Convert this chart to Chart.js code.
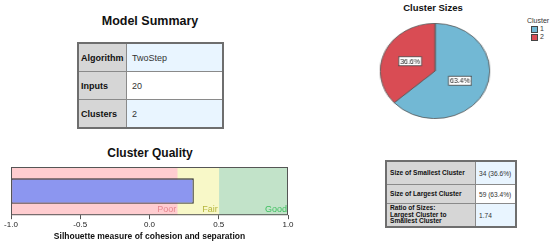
<!DOCTYPE html>
<html><head><meta charset="utf-8">
<script src="https://cdn.jsdelivr.net/npm/chart.js@4"></script>
<style>
body{margin:0;width:550px;height:242px;background:#fff;position:relative;overflow:hidden;font-family:"Liberation Sans",Arial,sans-serif;}
.abs{position:absolute;}
.title{font-weight:bold;color:#111;text-align:center;white-space:nowrap;}
table{border-collapse:collapse;border:2px solid #6e6e6e;}
td{border:1px solid #8a8a8a;padding:0;vertical-align:middle;white-space:nowrap;}
#t1 td{font-size:9px;height:27px;}
#t1 td.lab{background:#d6d6d6;font-weight:bold;color:#111;padding-left:2px;width:45px;}
#t1 td.val{padding-left:5px;color:#333;}
#t2 td{font-size:6.6px;}
#t2 td.lab{background:#d6d6d6;font-weight:bold;color:#111;padding-left:3px;width:85px;line-height:6.4px;}
#t2 td.val{padding-left:3px;color:#333;}
.blue{background:#e9f5ff;}
.white{background:#fff;}
#legend{font-size:7px;color:#333;}
.sw{display:inline-block;width:5px;height:5px;border:1px solid #444;vertical-align:middle;margin-right:2px;}
</style></head>
<body>
<div class="abs title" style="left:0;width:300px;top:14px;font-size:12.5px;">Model Summary</div>
<table id="t1" class="abs" style="left:77px;top:42px;width:147px;"></table>
<div class="abs title" style="left:0;width:300px;top:146px;font-size:12px;">Cluster Quality</div>
<div class="abs" style="left:0;top:160px;width:300px;height:82px;"><canvas id="q"></canvas></div>
<div class="abs title" style="left:383px;width:100px;top:2px;font-size:9.5px;">Cluster Sizes</div>
<div class="abs" style="left:387px;top:23px;width:96px;height:96px;transform:scaleX(1.15);transform-origin:50% 50%;"><canvas id="p"></canvas></div>
<div id="legend" class="abs" style="left:527px;top:17px;"></div>
<table id="t2" class="abs" style="left:385px;top:160px;width:132px;"></table>
<script>
const summaryLabels = ['Algorithm', 'Inputs', 'Clusters'];
const summaryValues = ['TwoStep', '20', '2'];

const bandNames = ['Poor', 'Fair', 'Good'];
const bandRanges = [[-1, 0.2], [0.2, 0.5], [0.5, 1]];
const silhouetteValue = 0.32;
const xTickValues = [-1, -0.5, 0, 0.5, 1];
const xAxisTitle = 'Silhouette measure of cohesion and separation';

const clusterNames = ['1', '2'];
const clusterShares = [63.4, 36.6];

const sizeLabels = ['Size of Smallest Cluster', 'Size of Largest Cluster', 'Ratio of Sizes:<br>Largest Cluster to<br>Smallest Cluster'];
const sizeValues = ['34 (36.6%)', '59 (63.4%)', '1.74'];

const FONT = '"Liberation Sans", Arial, sans-serif';

// tables
const t1 = document.getElementById('t1');
summaryLabels.forEach((l, i) => {
  const tr = document.createElement('tr');
  tr.innerHTML = `<td class="lab">${l}</td><td class="val ${i === 1 ? 'white' : 'blue'}">${summaryValues[i]}</td>`;
  t1.appendChild(tr);
});
const t2 = document.getElementById('t2');
const t2Heights = [22, 18, 22];
sizeLabels.forEach((l, i) => {
  const tr = document.createElement('tr');
  tr.innerHTML = `<td class="lab" style="height:${t2Heights[i]}px">${l}</td><td class="val ${i === 1 ? 'white' : 'blue'}">${sizeValues[i]}</td>`;
  t2.appendChild(tr);
});

// quality chart
const bandColors = ['#ffcdd0', '#f8f8c8', '#c2e3c9'];
const bandTextColors = ['#e6868f', '#b5b53c', '#3cbf5e'];
const bandDatasets = bandRanges.map((r, i) => ({
  label: bandNames[i],
  data: [r],
  backgroundColor: bandColors[i],
  borderWidth: 0,
  barPercentage: 1,
  categoryPercentage: 1,
  grouped: false,
  order: 2
}));
const framePlugin = {
  id: 'frame',
  afterDatasetsDraw(chart) {
    const { ctx, chartArea: a, scales } = chart;
    ctx.save();
    ctx.font = `9px ${FONT}`;
    ctx.textAlign = 'right';
    ctx.textBaseline = 'bottom';
    bandRanges.forEach((r, i) => {
      ctx.fillStyle = bandTextColors[i];
      ctx.fillText(bandNames[i], scales.x.getPixelForValue(r[1]) - 1, a.bottom - 1);
    });
    ctx.strokeStyle = '#555';
    ctx.lineWidth = 1;
    ctx.strokeRect(a.left + 0.5, a.top + 0.5, a.right - a.left - 1, a.bottom - a.top - 1);
    ctx.restore();
  }
};
new Chart(document.getElementById('q'), {
  type: 'bar',
  data: {
    labels: ['Silhouette'],
    datasets: [{
      label: 'Silhouette',
      data: [[-1, silhouetteValue]],
      backgroundColor: '#8c96f0',
      borderColor: '#333',
      borderWidth: 1.3,
      borderSkipped: false,
      barPercentage: 0.53,
      categoryPercentage: 1,
      grouped: false,
      order: 1
    }, ...bandDatasets]
  },
  options: {
    indexAxis: 'y',
    responsive: true,
    maintainAspectRatio: false,
    animation: false,
    devicePixelRatio: 1,
    layout: { padding: { left: 11, right: 12, top: 7, bottom: 0 } },
    plugins: { legend: { display: false }, tooltip: { enabled: false }, title: { display: false } },
    scales: {
      y: { display: false },
      x: {
        type: 'linear', min: -1, max: 1,
        afterBuildTicks: s => { s.ticks = xTickValues.map(v => ({ value: v })); },
        ticks: { callback: v => Number(v).toFixed(1), font: { size: 8, family: FONT }, color: '#222', padding: 1, maxRotation: 0 },
        grid: { drawOnChartArea: false, drawTicks: true, tickLength: 4, color: '#555' },
        border: { display: false },
        title: { display: true, text: xAxisTitle, font: { size: 8.5, weight: 'bold', family: FONT }, color: '#111', padding: { top: 1, bottom: 0 } }
      }
    }
  },
  plugins: [framePlugin]
});

// pie
const pieColors = ['#72b8d4', '#d94c54'];
const SX = 1.15;
const labelPlugin = {
  id: 'pielabels',
  afterDatasetsDraw(chart) {
    const { ctx } = chart;
    const meta = chart.getDatasetMeta(0);
    ctx.save();
    ctx.font = `7px ${FONT}`;
    ctx.textAlign = 'center';
    ctx.textBaseline = 'middle';
    meta.data.forEach((arc, i) => {
      const p = arc.tooltipPosition();
      const txt = clusterShares[i].toFixed(1) + '%';
      ctx.save();
      ctx.translate(p.x, p.y);
      ctx.scale(1 / SX, 1);
      const w = ctx.measureText(txt).width + 3;
      ctx.fillStyle = '#fff';
      ctx.fillRect(-w / 2, -4.5, w, 9);
      ctx.strokeStyle = '#444';
      ctx.lineWidth = 0.8;
      ctx.strokeRect(-w / 2, -4.5, w, 9);
      ctx.fillStyle = '#222';
      ctx.fillText(txt, 0, 0.5);
      ctx.restore();
    });
    ctx.restore();
  }
};
new Chart(document.getElementById('p'), {
  type: 'pie',
  data: {
    labels: clusterNames,
    datasets: [{ data: clusterShares, backgroundColor: pieColors, borderColor: '#555', borderWidth: 0.8 }]
  },
  options: {
    responsive: true,
    maintainAspectRatio: false,
    animation: false,
    devicePixelRatio: 1,
    layout: { padding: 0 },
    plugins: { legend: { display: false }, tooltip: { enabled: false } }
  },
  plugins: [labelPlugin]
});

// legend
const lg = document.getElementById('legend');
lg.innerHTML = '<div style="margin-bottom:1px">Cluster</div>' + clusterNames.map((n, i) =>
  `<div style="margin-left:4px;line-height:8px"><span class="sw" style="background:${pieColors[i]}"></span>${n}</div>`).join('');
</script>
</body></html>
